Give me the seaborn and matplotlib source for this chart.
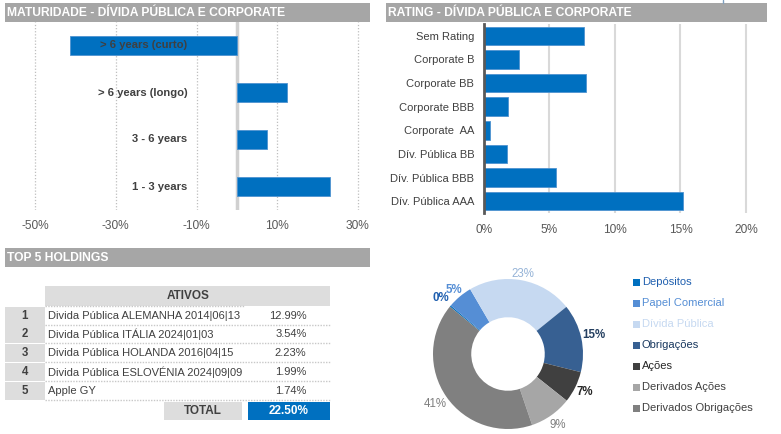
import matplotlib
matplotlib.use('Agg')
import matplotlib.pyplot as plt
import seaborn as sns
import pandas as pd
import numpy as np
from matplotlib.patches import Rectangle

sns.set_theme(style='white')
plt.rcParams['font.family'] = ['Liberation Sans', 'DejaVu Sans']

# ---------------- data ----------------
mat_categories = ['> 6 years (curto)', '> 6 years (longo)', '3 - 6 years', '1 - 3 years']
mat_values = [-41.3, 12.4, 7.4, 23.0]
mat_ticks = [-50, -30, -10, 10, 30]

rating_categories = ['Sem Rating', 'Corporate B', 'Corporate BB', 'Corporate BBB',
                     'Corporate  AA', 'Dív. Pública BB', 'Dív. Pública BBB', 'Dív. Pública AAA']
rating_values = [7.66, 2.65, 7.81, 1.83, 0.43, 1.78, 5.52, 15.19]
rating_ticks = [0, 5, 10, 15, 20]

holding_ranks = ['1', '2', '3', '4', '5']
holding_names = ['Divida Pública ALEMANHA 2014|06|13',
                 'Divida Pública ITÁLIA 2024|01|03',
                 'Divida Pública HOLANDA 2016|04|15',
                 'Divida Pública ESLOVÉNIA 2024|09|09',
                 'Apple GY']
holding_weights = ['12.99%', '3.54%', '2.23%', '1.99%', '1.74%']
holding_total = '22.50%'

alloc_labels = ['Depósitos', 'Papel Comercial', 'Dívida Pública', 'Obrigações',
                'Ações', 'Derivados Ações', 'Derivados Obrigações']
alloc_values = [0.3, 5.4, 22.6, 14.7, 6.8, 9.1, 41.1]
alloc_pct_labels = ['0%', '5%', '23%', '15%', '7%', '9%', '41%']
alloc_colors = ['#0070C0', '#558ED5', '#C6D9F1', '#376092', '#404040', '#A6A6A6', '#808080']
alloc_label_colors = ['#1F5FAF', '#558ED5', '#95B3D7', '#243F60', '#262626', '#7F7F7F', '#7F7F7F']
alloc_legend_text_colors = ['#1F5FAF', '#558ED5', '#C6D9F1', '#17375E', '#262626', '#404040', '#404040']

# ---------------- figure ----------------
W, H = 781, 434
fig = plt.figure(figsize=(W / 100, H / 100), dpi=100)
fig.patch.set_facecolor('white')

def px_axes(x0, y0, x1, y1, **kw):
    return fig.add_axes([x0 / W, 1 - y1 / H, (x1 - x0) / W, (y1 - y0) / H], **kw)

BLUE = '#0070C0'
HEADER = '#A6A6A6'
TXT = '#595959'
DARK = '#404040'

# overlay for headers / table / legend
ov = px_axes(0, 0, W, H, zorder=0)
ov.set_xlim(0, W)
ov.set_ylim(H, 0)
ov.axis('off')
ov.patch.set_alpha(0)

def header(x0, y0, x1, y1, text):
    ov.add_patch(Rectangle((x0, y0), x1 - x0, y1 - y0, color=HEADER, lw=0))
    ov.text(x0 + 2, (y0 + y1) / 2 + 0.5, text, color='white', fontweight='bold',
            fontsize=8.7, ha='left', va='center')

header(5, 3, 370, 21.5, 'MATURIDADE - DÍVIDA PÚBLICA E CORPORATE')
header(386, 3, 767, 21.5, 'RATING - DÍVIDA PÚBLICA E CORPORATE')
header(5, 248, 370, 266.5, 'TOP 5 HOLDINGS')
ov.plot([723, 723], [0, 3], color='#7F9FBF', lw=1)

# ---------------- maturity chart ----------------
ax1 = px_axes(27, 22, 366, 210, zorder=2)
df_mat = pd.DataFrame({'cat': mat_categories, 'val': mat_values})
sns.barplot(data=df_mat, x='val', y='cat', orient='h', color=BLUE, saturation=1,
            width=0.41, ax=ax1, zorder=3, edgecolor='#4F93D0', linewidth=0.6)
ax1.set_xlim(-52, 32)
ax1.set_ylim(3.5, -0.5)
ax1.set_xticks(mat_ticks)
ax1.set_xticklabels([f'{t}%' for t in mat_ticks], fontsize=8.6, color=TXT)
ax1.set_yticks([])
ax1.set_xlabel('')
ax1.set_ylabel('')
ax1.tick_params(axis='x', length=0, pad=7)
ax1.grid(axis='x', linestyle=(0, (1, 1.5)), color='#BFBFBF', lw=0.9, zorder=0)
ax1.axvline(0, color='#D0D0D0', lw=2.5, zorder=1)
for s in ax1.spines.values():
    s.set_visible(False)
for i, c in enumerate(mat_categories):
    ax1.annotate(c, xy=(0, i), xytext=(-35.5, 0), textcoords='offset points',
                 ha='right', va='center', fontsize=8.1, fontweight='bold',
                 color=DARK, zorder=5)

# ---------------- rating chart ----------------
ax2 = px_axes(484, 24, 484 + 20.5 * 13.1, 213, zorder=2)
df_rat = pd.DataFrame({'cat': rating_categories, 'val': rating_values})
sns.barplot(data=df_rat, x='val', y='cat', orient='h', color=BLUE, saturation=1,
            width=0.78, ax=ax2, zorder=3, edgecolor='#4F93D0', linewidth=0.6)
ax2.set_xlim(0, 20.5)
ax2.set_ylim(7.5, -0.5)
ax2.set_xticks(rating_ticks)
ax2.set_xticklabels([f'{t}%' for t in rating_ticks], fontsize=8.6, color=TXT)
ax2.set_yticks(range(len(rating_categories)))
ax2.set_yticklabels(rating_categories, fontsize=8.0, color=DARK)
ax2.set_xlabel('')
ax2.set_ylabel('')
ax2.tick_params(axis='x', length=0, pad=8)
ax2.tick_params(axis='y', length=0, pad=7)
ax2.grid(axis='x', color='#D9D9D9', lw=1.5, zorder=0)
ax2.grid(axis='y', visible=False)
for k, s in ax2.spines.items():
    s.set_visible(k == 'left')
ax2.spines['left'].set_color('#595959')
ax2.spines['left'].set_linewidth(2)
ax2.spines['left'].set_zorder(4)

# ---------------- top 5 table ----------------
GRAYCELL = '#DDDDDD'
ov.add_patch(Rectangle((45, 286), 285, 19.5, color=GRAYCELL, lw=0))
ov.text(188, 296, 'ATIVOS', ha='center', va='center', fontsize=8.5,
        fontweight='bold', color=DARK)
ov.plot([45, 245], [306, 306], color='#C8C8C8', lw=1, ls=(0, (1, 1)))
row_tops = [306.5, 324.5, 343.5, 362.5, 381.5]
row_h = 18.5
for i, (r, n, w) in enumerate(zip(holding_ranks, holding_names, holding_weights)):
    y0 = row_tops[i]
    yc = y0 + row_h / 2
    ov.add_patch(Rectangle((5, y0), 39.5, row_h - 0.5, color=GRAYCELL, lw=0))
    ov.text(25, yc, r, ha='center', va='center', fontsize=8.3, fontweight='bold', color=DARK)
    ov.text(48, yc, n, ha='left', va='center', fontsize=8.0, color=DARK)
    ov.text(306.5, yc, w, ha='right', va='center', fontsize=8.0, color=DARK)
    ov.plot([45, 330], [y0 + row_h, y0 + row_h], color='#C8C8C8', lw=1, ls=(0, (1, 1)))
ov.add_patch(Rectangle((164, 402), 78, 18, color=GRAYCELL, lw=0))
ov.text(203, 411, 'TOTAL', ha='center', va='center', fontsize=8.5,
        fontweight='bold', color=DARK)
ov.add_patch(Rectangle((248, 402), 82, 18, color=BLUE, lw=0))
ov.text(289, 411, holding_total, ha='center', va='center', fontsize=8.5,
        fontweight='bold', color='white')

# ---------------- donut ----------------
cx, cy, R = 508, 354, 75
ext = 100
ax3 = px_axes(cx - ext, cy - ext, cx + ext, cy + ext, zorder=2)
ax3.patch.set_alpha(0)
wedges, _ = ax3.pie(alloc_values, colors=alloc_colors, startangle=140.8, counterclock=False,
                    radius=1, wedgeprops=dict(width=0.51, linewidth=0))
ax3.set_xlim(-ext / R, ext / R)
ax3.set_ylim(-ext / R, ext / R)
ax3.set_aspect('equal')
ax3.axis('off')
bold_flags = [True, True, False, True, True, False, False]
label_r = [1.17, 1.12, 1.08, 1.17, 1.14, 1.15, 1.18]
for wdg, lab, col, b, rr in zip(wedges, alloc_pct_labels, alloc_label_colors, bold_flags, label_r):
    ang = np.deg2rad((wdg.theta1 + wdg.theta2) / 2)
    ax3.text(rr * np.cos(ang), rr * np.sin(ang), lab, ha='center', va='center',
             fontsize=8.3, color=col, fontweight='bold' if b else 'normal')

# legend (manual)
leg_y = [282, 303, 324, 345, 366, 387, 408]
for y, lab, col, tcol in zip(leg_y, alloc_labels, alloc_colors, alloc_legend_text_colors):
    ov.add_patch(Rectangle((633, y - 3.5), 7, 7, color=col, lw=0))
    ov.text(642, y, lab, ha='left', va='center', fontsize=8.0, color=tcol)

fig.savefig('out.png', dpi=100, facecolor='white')
